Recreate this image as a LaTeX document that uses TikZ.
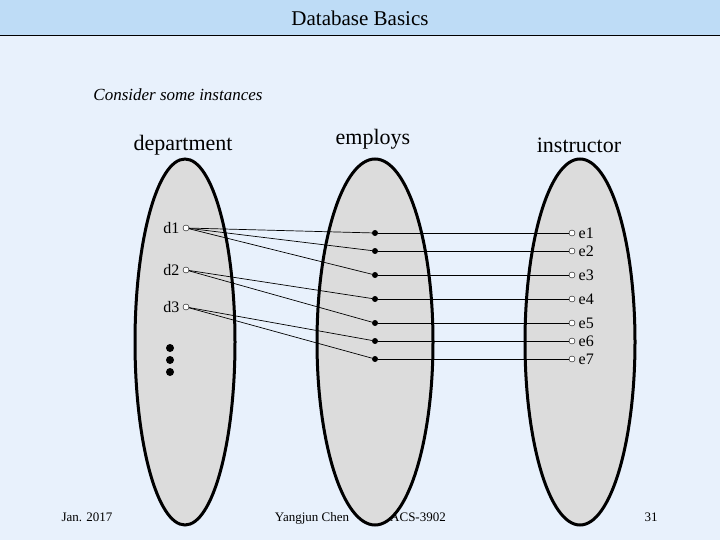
\documentclass[tikz,border=0pt]{standalone}
\usepackage{fontspec}
\setmainfont{Liberation Serif}
\usetikzlibrary{positioning}
\definecolor{pagebg}{RGB}{232,241,252}
\definecolor{barbg}{RGB}{190,220,246}
\definecolor{setgray}{RGB}{220,220,220}

\begin{document}
\begin{tikzpicture}[x=1pt,y=-1pt,
    setshape/.style={fill=setgray, draw=black, line width=3pt},
    hollow/.style={circle, draw, inner sep=0pt, minimum size=6pt, fill=white},
    solid/.style={circle, fill=black, inner sep=0pt, minimum size=6pt},
    link/.style={line width=0.7pt},
    foot/.style={anchor=base, font=\fontsize{13}{15}\selectfont}]
    \fill[pagebg] (0,0) rectangle (720,540);
    \useasboundingbox (0,0) rectangle (720,540);
    \fill[barbg] (0,0) rectangle (720,36);
    \draw[line width=1pt] (0,36) -- (720,36);
    \node (title) at (360,18) {\fontsize{21}{24}\selectfont Database Basics};
    
    \node (intro) at (178,95) {\fontsize{17}{20}\selectfont\itshape Consider some instances};
    
    \draw[setshape] (185,342) ellipse (50 and 183);
    \draw[setshape] (375,342) ellipse (58 and 183);
    \draw[setshape] (580,342) ellipse (55 and 183);
    
    \node (dept) at (183,145) {\fontsize{22}{26}\selectfont department};
    \node (empl) at (373,139) {\fontsize{22}{26}\selectfont employs};
    \node (inst) at (579,145) {\fontsize{22}{26}\selectfont instructor};
    
    % department elements
    \node[hollow] (d1) at (186,228) {};
    \node[hollow] (d2) at (186,270) {};
    \node[hollow] (d3) at (186,307) {};
    \foreach \d in {1,2,3}
        \node[left=0pt of d\d] {\fontsize{16}{18}\selectfont d\d};
    \foreach \y in {348,360,372}
        \node[solid, minimum size=8pt] at (170,\y) {};
    
    % employs and instructor elements
    \foreach \i/\y in {1/233,2/251,3/275,4/299,5/323,6/341,7/359} {
        \node[solid] (m\i) at (375,\y) {};
        \node[hollow] (e\i) at (572,\y) {};
        \node[right=0pt of e\i] {\fontsize{16}{18}\selectfont e\i};
        \draw[link] (m\i) -- (e\i);
    }
    
    \foreach \a/\b in {d1/m1,d1/m2,d1/m3,d2/m4,d2/m5,d3/m6,d3/m7}
        \draw[link] (\a) -- (\b);
    
    \node[foot] (date) at (87,521) {Jan. 2017};
    \node[foot] (author) at (312,521) {Yangjun Chen};
    \node[foot] (course) at (418,521) {ACS-3902};
    \node[foot] (page) at (651,521) {31};
\end{tikzpicture}
\end{document}
